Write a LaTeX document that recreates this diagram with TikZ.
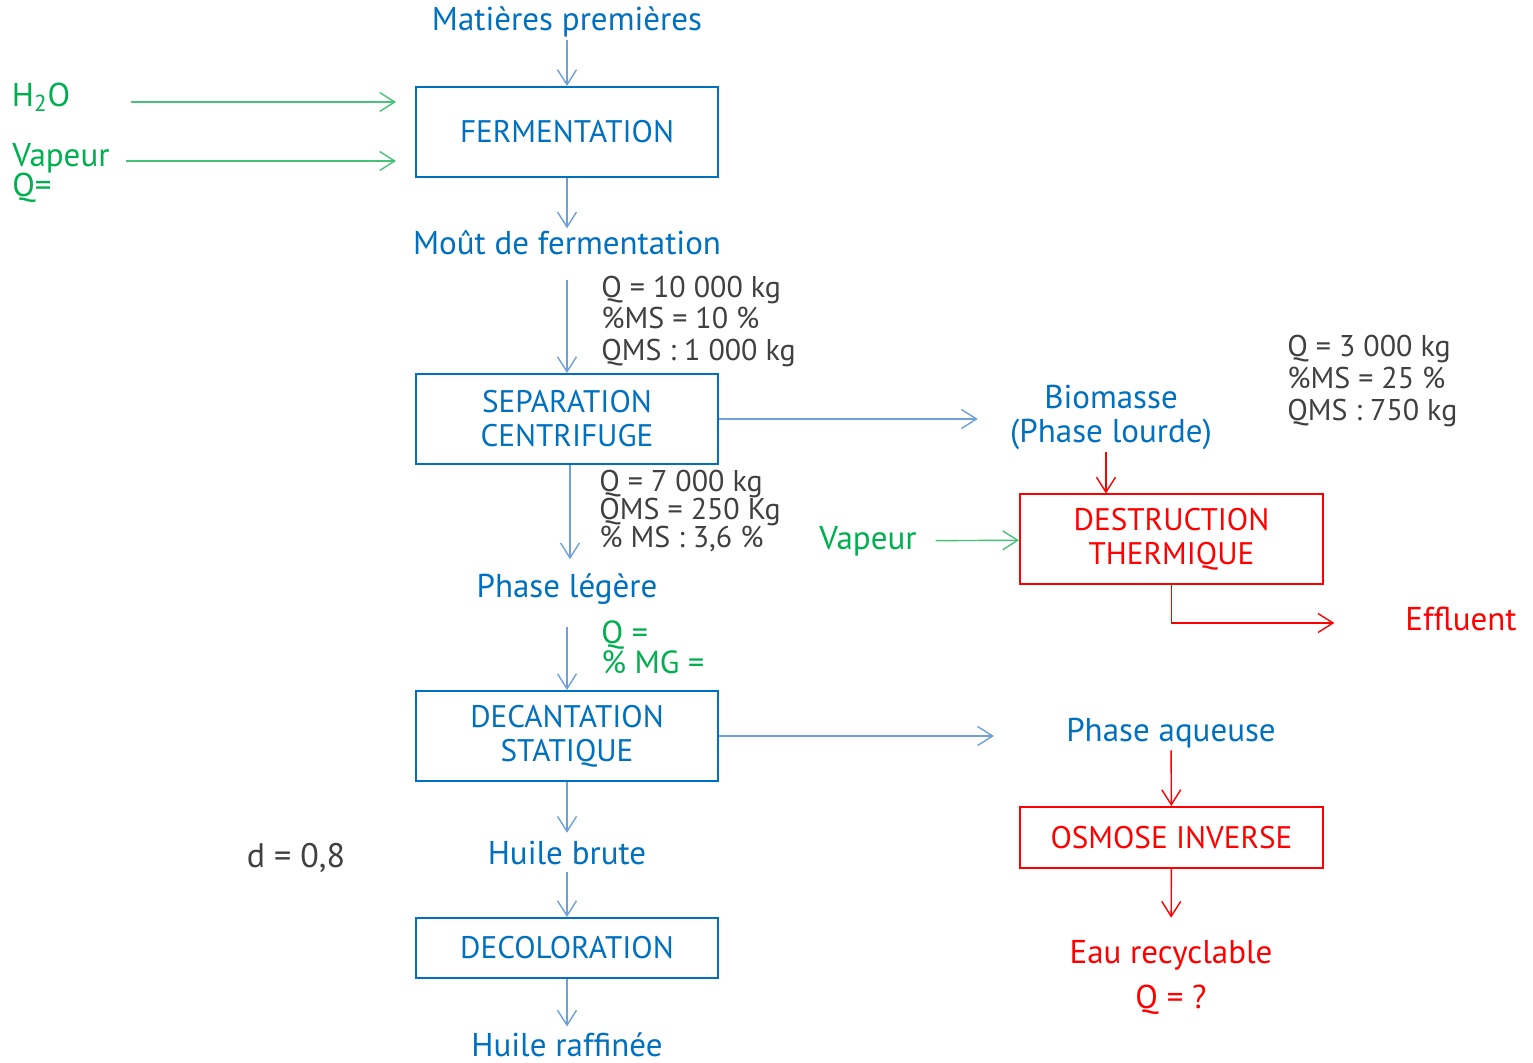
\documentclass[tikz,border=0pt]{standalone}
\usepackage{fontspec}
\setmainfont{PT Sans}
\usetikzlibrary{arrows.meta,positioning}
\definecolor{procblue}{RGB}{0,112,192}
\definecolor{flowblue}{RGB}{110,160,220}
\definecolor{utilgreen}{RGB}{0,176,80}
\definecolor{flowgreen}{RGB}{70,195,120}
\definecolor{wastered}{RGB}{255,0,0}
\definecolor{datagrey}{RGB}{64,64,64}
\newcommand{\lbl}{\fontsize{16.5pt}{17pt}\selectfont}
\newcommand{\boxlbl}{\fontsize{15.6pt}{17pt}\selectfont}

\begin{document}
\begin{tikzpicture}[x=0.5pt,y=-0.5pt,on grid,
    >={Straight Barb[length=7.5pt,width=9.5pt]},
    unit/.style={draw=procblue,line width=1pt,minimum width=151pt,minimum height=45pt,align=center,text=procblue,font=\boxlbl},
    redunit/.style={unit,draw=wastered,text=wastered,minimum width=151.5pt},
    stream/.style={text=procblue,font=\lbl,align=center,inner sep=1pt},
    data/.style={text=datagrey,align=left,anchor=west,inner sep=0pt},
    bflow/.style={->,draw=flowblue,line width=0.7pt},
    gflow/.style={->,draw=flowgreen,line width=0.7pt},
    rflow/.style={->,draw=wastered,line width=0.7pt}]
   \useasboundingbox[fill=white] (0,0) rectangle (1533,1063);
   % main line
   \node[stream] (mat) at (567,22) {Matières premières};
   \node[unit] (ferm) [below=55pt of mat] {FERMENTATION};
   \node[stream] (mout) [below=55.5pt of ferm] {Moût de fermentation};
   \node[unit] (sep) [below=88pt of mout] {SEPARATION\\CENTRIFUGE};
   \node[stream] (leg) [below=85pt of sep] {Phase légère};
   \node[unit] (dec) [below=73.5pt of leg] {DECANTATION\\STATIQUE};
   \node[stream] (brute) [below=58.5pt of dec] {Huile brute};
   \node[unit,minimum height=30pt] (decol) [below=47.5pt of brute] {DECOLORATION};
   \node[stream] (raff) [below=48.5pt of decol] {Huile raffinée};
   % inputs
   \node[text=utilgreen,font=\lbl] (h2o) at (41,97) {H\textsubscript{2}O};
   \node[text=utilgreen,font=\lbl,anchor=west,inner sep=0pt] (vap) at (12,158) {Vapeur};
   \node[text=utilgreen,font=\lbl,anchor=west,inner sep=0pt] (qvap) at (12,188) {Q=};
   \node[text=datagrey,font=\fontsize{17pt}{17pt}\selectfont] (dens) at (296,858) {d = 0,8};
   % data
   \node[data,font=\fontsize{15pt}{15.75pt}\selectfont] (mouteq) at (601,321.5) {Q = 10 000 kg\\\%MS = 10 \%\\QMS : 1 000 kg};
   \node[data,font=\fontsize{15pt}{14pt}\selectfont] (legeq) at (599,511) {Q = 7 000 kg\\QMS = 250 Kg\\\% MS : 3,6 \%};
   \node[data,text=utilgreen,font=\fontsize{16pt}{15pt}\selectfont] (legmg) at (601,647) {Q =\\\% MG =};
   \node[data,font=\fontsize{15pt}{16pt}\selectfont] (bioeq) at (1287,381) {Q = 3 000 kg\\\%MS = 25 \%\\QMS : 750 kg};
   % side streams
   \node[stream] (bio) at (1111,417) {Biomasse\\(Phase lourde)};
   \node[redunit] (dest) at (1171.5,539.5) {DESTRUCTION\\THERMIQUE};
   \node[text=utilgreen,font=\lbl] (vap2) at (868,541) {Vapeur};
   \node[text=wastered,font=\lbl] (effl) at (1461,619) {Effluent};
   \node[stream] (aq) at (1171,733) {Phase aqueuse};
   \node[redunit,minimum height=30.5pt] (osm) at (1171.5,837.5) {OSMOSE INVERSE};
   \node[stream,text=wastered] (eau) at (1171,955) {Eau recyclable};
   \node[stream,text=wastered] (qeau) at (1171,1000) {Q = ?};
   % flows
   \draw[bflow] (mat) -- (ferm);
   \draw[bflow] (ferm) -- (mout);
   \draw[bflow,shorten <=11pt] (mout) -- (sep);
   \draw[bflow,shorten >=6pt] ([xshift=1.5pt]sep.south) -- ([xshift=1.5pt]leg.north);
   \draw[bflow,shorten <=10pt] (leg) -- (dec);
   \draw[bflow,shorten >=3pt] (dec) -- (brute);
   \draw[bflow,shorten <=2.5pt] (brute) -- (decol);
   \draw[bflow,shorten >=2pt] (decol) -- (raff);
   \draw[bflow,shorten >=15pt] (sep.east) -- (sep.east -| bio.west);
   \draw[bflow,shorten >=35pt] (dec.east) -- (dec.east -| aq.west);
   \draw[gflow,shorten <=27pt,shorten >=9.5pt] ([yshift=-2.5pt]h2o.east) -- ([yshift=-2.5pt]h2o.east -| ferm.west);
   \draw[gflow,shorten <=8pt,shorten >=9.5pt] ([yshift=-1.5pt]vap.east) -- ([yshift=-1.5pt]vap.east -| ferm.west);
   \draw[rflow] ([xshift=-2.5pt]bio.south) -- ([xshift=-2.5pt]bio.south |- dest.north);
   \draw[gflow,shorten <=6pt] (vap2) -- (dest);
   \draw[rflow,shorten >=32pt] (dest.south) |- ([yshift=-2pt]effl.west);
   \draw[rflow] (aq) -- (osm);
   \draw[rflow,shorten >=10pt] (osm) -- (eau);
\end{tikzpicture}
\end{document}
